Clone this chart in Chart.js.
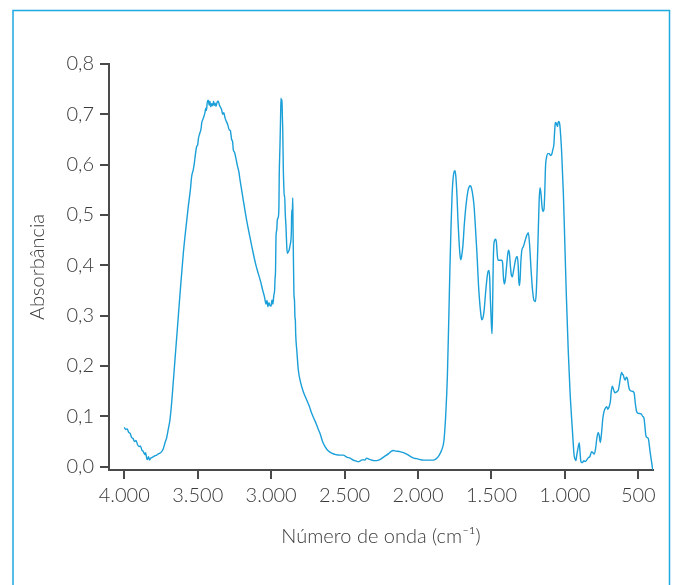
<!DOCTYPE html>
<html>
<head>
<meta charset="utf-8">
<script src="https://cdn.jsdelivr.net/npm/chart.js@4"></script>
<style>
  html, body { margin: 0; padding: 0; background: #fff; }
  #wrap { width: 676px; height: 585px; }
</style>
</head>
<body>
<div id="wrap"><canvas id="c" width="676" height="585"></canvas></div>
<script>
// ---- data ----
const waveNumbers = [
  4000,3990,3980,3970,3960,3950,3940,3930,3920,3910,3900,3890,3880,3870,3860,3855,3848,3843,3835,3828,3820,3813,3800,3790,3779,3765,3757,3745,3735,3723,3711,3700,3689,3678,3668,3655,3639,3620,3598,3580,3564,3550,3541,3530,3523,3515,3507,3500,3495,3485,3478,3472,3466,3460,3451,3445,3440,3435,3428,3422,3417,3411,3405,3398,3392,3387,3382,3375,3368,3360,3352,3345,3337,3330,3322,3314,3305,3296,3285,3278,3269,3262,3258,3250,3240,3230,3220,3212,3190,3167,3145,3122,3105,3088,3072,3058,3045,3035,3028,3022,3015,3008,3001,2994,2988,2982,2976,2974,2970,2967,2962,2958,2952,2947,2945,2940,2936,2933,2929,2926,2924,2921,2917,2914,2911,2908,2904,2899,2894,2890,2884,2877,2871,2865,2862,2860,2856,2853,2851,2849,2845,2841,2838,2835,2833,2825,2815,2800,2781,2760,2740,2724,2700,2680,2667,2650,2633,2610,2588,2560,2530,2509,2485,2463,2441,2420,2407,2390,2373,2362,2350,2335,2315,2300,2282,2260,2230,2200,2180,2168,2150,2123,2100,2077,2050,2030,2009,1985,1964,1930,1896,1880,1862,1850,1839,1823,1810,1800,1790,1783,1775,1768,1762,1755,1748,1742,1735,1728,1721,1714,1709,1703,1694,1685,1673,1660,1653,1646,1639,1630,1619,1610,1598,1588,1578,1570,1566,1558,1550,1540,1530,1523,1517,1512,1507,1500,1496,1492,1488,1484,1478,1472,1466,1460,1455,1445,1430,1424,1418,1412,1406,1398,1390,1384,1378,1370,1364,1358,1352,1343,1335,1328,1324,1318,1314,1310,1305,1300,1293,1283,1270,1259,1249,1240,1230,1220,1210,1201,1195,1188,1180,1175,1169,1162,1155,1148,1142,1137,1132,1124,1115,1106,1098,1090,1082,1075,1070,1066,1062,1056,1050,1046,1041,1035,1028,1022,1010,1000,990,977,965,955,945,938,931,925,918,910,902,897,892,886,878,870,862,852,840,830,818,810,800,790,783,773,766,759,750,742,734,725,715,708,700,690,684,677,670,665,659,650,642,636,628,620,613,607,602,596,589,582,576,572,566,561,545,529,520,511,500,482,470,461,455,448,440,432,420,410,402
];
const absorbance = [
  0.078,0.074,0.075,0.068,0.066,0.058,0.056,0.050,0.052,0.044,0.040,0.041,0.033,0.030,0.024,0.028,0.018,0.014,0.020,0.013,0.017,0.018,0.020,0.022,0.023,0.026,0.027,0.030,0.035,0.047,0.058,0.075,0.093,0.125,0.162,0.212,0.272,0.345,0.424,0.475,0.517,0.550,0.577,0.590,0.603,0.622,0.636,0.640,0.652,0.663,0.670,0.684,0.689,0.694,0.703,0.712,0.708,0.724,0.728,0.718,0.726,0.715,0.721,0.717,0.726,0.718,0.722,0.716,0.724,0.726,0.718,0.714,0.709,0.700,0.703,0.693,0.686,0.680,0.669,0.668,0.650,0.645,0.630,0.625,0.613,0.598,0.586,0.570,0.530,0.490,0.457,0.424,0.402,0.384,0.368,0.351,0.337,0.323,0.330,0.318,0.326,0.320,0.319,0.331,0.323,0.340,0.352,0.371,0.390,0.457,0.470,0.490,0.495,0.517,0.577,0.636,0.690,0.732,0.720,0.729,0.700,0.669,0.590,0.560,0.537,0.540,0.504,0.477,0.440,0.424,0.426,0.431,0.440,0.451,0.470,0.510,0.500,0.534,0.480,0.431,0.345,0.330,0.298,0.290,0.265,0.230,0.192,0.168,0.149,0.134,0.120,0.106,0.090,0.075,0.066,0.050,0.040,0.031,0.027,0.024,0.023,0.023,0.019,0.017,0.013,0.011,0.010,0.012,0.014,0.013,0.017,0.015,0.013,0.012,0.012,0.014,0.020,0.026,0.031,0.032,0.031,0.030,0.028,0.025,0.020,0.017,0.016,0.014,0.013,0.013,0.013,0.015,0.020,0.026,0.033,0.053,0.110,0.180,0.300,0.390,0.480,0.540,0.570,0.585,0.588,0.575,0.540,0.490,0.450,0.420,0.411,0.418,0.440,0.480,0.520,0.548,0.555,0.558,0.556,0.545,0.520,0.480,0.420,0.360,0.320,0.298,0.292,0.295,0.310,0.345,0.375,0.388,0.390,0.375,0.330,0.280,0.264,0.320,0.400,0.440,0.450,0.452,0.445,0.420,0.410,0.410,0.410,0.405,0.375,0.363,0.370,0.395,0.420,0.430,0.425,0.395,0.380,0.377,0.385,0.400,0.412,0.417,0.417,0.400,0.370,0.360,0.372,0.405,0.430,0.437,0.450,0.460,0.465,0.440,0.390,0.350,0.330,0.328,0.345,0.400,0.480,0.530,0.554,0.540,0.515,0.507,0.512,0.545,0.595,0.616,0.622,0.622,0.618,0.620,0.630,0.640,0.665,0.681,0.684,0.680,0.676,0.684,0.686,0.680,0.655,0.625,0.540,0.440,0.340,0.230,0.150,0.100,0.055,0.025,0.015,0.012,0.025,0.038,0.047,0.030,0.012,0.008,0.009,0.012,0.010,0.013,0.018,0.020,0.030,0.028,0.025,0.038,0.055,0.068,0.062,0.048,0.068,0.095,0.109,0.116,0.119,0.114,0.118,0.130,0.150,0.160,0.155,0.150,0.147,0.148,0.150,0.152,0.165,0.180,0.187,0.183,0.182,0.175,0.172,0.178,0.176,0.172,0.160,0.154,0.150,0.147,0.125,0.109,0.106,0.105,0.100,0.096,0.080,0.061,0.058,0.056,0.030,0.010,-0.006
];
const xTickValues = [4000, 3500, 3000, 2500, 2000, 1500, 1000, 500];
const yTickValues = [0, 0.1, 0.2, 0.3, 0.4, 0.5, 0.6, 0.7, 0.8];
const xTitle = 'Número de onda (cm⁻¹)';
const yTitle = 'Absorbância';

const points = waveNumbers.map((w, i) => ({ x: w, y: absorbance[i] }));

const FONT = "'Lato', 'Open Sans', sans-serif";
const TEXT = '#3a3a3a';
const AXIS = '#4a4a4a';

const framePlugin = {
  id: 'frame',
  beforeDraw(chart) {
    const ctx = chart.ctx;
    ctx.save();
    ctx.fillStyle = '#ffffff';
    ctx.fillRect(0, 0, chart.width, chart.height);
    ctx.strokeStyle = '#1ea9e1';
    ctx.lineWidth = 1.5;
    ctx.strokeRect(13, 10.5, 656.5, 620);
    ctx.restore();
  }
};

new Chart(document.getElementById('c'), {
  type: 'scatter',
  data: {
    datasets: [{
      data: points,
      showLine: true,
      borderColor: '#1a9fd8',
      borderWidth: 1.4,
      pointRadius: 0,
      cubicInterpolationMode: 'monotone',
      fill: false
    }]
  },
  options: {
    responsive: false,
    animation: false,
    devicePixelRatio: 1,
    layout: { padding: { left: 0, right: 23, top: 64, bottom: 0 } },
    plugins: { legend: { display: false }, tooltip: { enabled: false } },
    scales: {
      x: {
        type: 'linear',
        reverse: true,
        min: 400,
        max: 4104,
        afterFit(scale) { scale.height = 115; },
        afterBuildTicks(scale) { scale.ticks = xTickValues.map(v => ({ value: v })); },
        border: { display: true, color: AXIS, width: 2 },
        grid: { drawOnChartArea: false, drawTicks: true, tickLength: 9, color: AXIS, lineWidth: 2 },
        ticks: {
          autoSkip: false,
          maxRotation: 0,
          padding: 5,
          color: TEXT,
          font: { family: FONT, size: 20, weight: 300, lineHeight: 1.2 },
          callback: (v) => v >= 1000 ? Math.floor(v / 1000) + '.' + String(v % 1000).padStart(3, '0') : String(v)
        },
        title: {
          display: true,
          text: xTitle,
          color: TEXT,
          font: { family: FONT, size: 20, weight: 300, lineHeight: 1.2 },
          padding: { top: 0, bottom: 36 }
        }
      },
      y: {
        type: 'linear',
        min: -0.0066,
        max: 0.8,
        afterFit(scale) { scale.width = 109; },
        afterBuildTicks(scale) { scale.ticks = yTickValues.map(v => ({ value: v })); },
        border: { display: true, color: AXIS, width: 2 },
        grid: { drawOnChartArea: false, drawTicks: true, tickLength: 9, color: AXIS, lineWidth: 2 },
        ticks: {
          padding: 6,
          color: TEXT,
          font: { family: FONT, size: 20, weight: 300, lineHeight: 1.2 },
          callback: (v) => v.toFixed(1).replace('.', ',')
        },
        title: {
          display: true,
          text: yTitle,
          color: TEXT,
          font: { family: FONT, size: 20, weight: 300, lineHeight: 1.2 },
          padding: { top: 26, bottom: 0 }
        }
      }
    }
  },
  plugins: [framePlugin]
});
</script>
</body>
</html>
